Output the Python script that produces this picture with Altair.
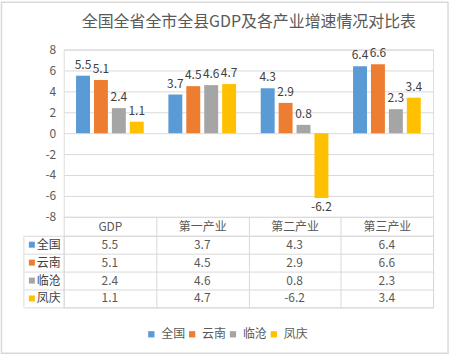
import altair as alt
import pandas as pd

categories = ["GDP", "第一产业", "第二产业", "第三产业"]
series = ["全国", "云南", "临沧", "凤庆"]
v_quanguo = [5.5, 3.7, 4.3, 6.4]
v_yunnan = [5.1, 4.5, 2.9, 6.6]
v_lincang = [2.4, 4.6, 0.8, 2.3]
v_fengqing = [1.1, 4.7, -6.2, 3.4]
colors = ["#5B9BD5", "#ED7D31", "#A5A5A5", "#FFC000"]
y_ticks = [-8, -6, -4, -2, 0, 2, 4, 6, 8]
title_text = "全国全省全市全县GDP及各产业增速情况对比表"

rows = []
for s, vals in zip(series, [v_quanguo, v_yunnan, v_lincang, v_fengqing]):
    for c, v in zip(categories, vals):
        rows.append({"category": c, "series": s, "value": v, "label": f"{v:.1f}"})
df = pd.DataFrame(rows)
sdf = pd.DataFrame({"series": series})
tdf = pd.DataFrame({"title": [title_text]})

FONT = "Noto Sans CJK SC"
GRID = "#D9D9D9"
TXT = "#595959"
W, H = 371, 168
TH = 72

color_scale = alt.Scale(domain=series, range=colors)

x_top = alt.X("category:N", sort=categories,
              scale=alt.Scale(paddingInner=0, paddingOuter=0),
              axis=alt.Axis(title=None, orient="bottom", domain=False, ticks=True,
                            tickBand="extent", tickSize=19, tickColor=GRID,
                            labelAngle=0, labelBaseline="middle", labelPadding=-9.5,
                            labelFont=FONT, labelFontSize=12, labelColor=TXT, grid=False))
xo = alt.XOffset("series:N", sort=series,
                 scale=alt.Scale(paddingInner=0.222, paddingOuter=0.6875))
y_top = alt.Y("value:Q", scale=alt.Scale(domain=[-8, 8], nice=False),
              axis=alt.Axis(title=None, values=y_ticks, domain=False, ticks=False,
                            grid=True, gridColor=GRID, labelPadding=8,
                            labelExpr="toString(datum.value)",
                            labelFont=FONT, labelFontSize=12, labelColor=TXT))

base = alt.Chart(df).encode(x=x_top, xOffset=xo, y=y_top)

bars = base.mark_bar().encode(
    color=alt.Color("series:N", scale=color_scale, sort=series,
                    legend=alt.Legend(title=None, orient="none", direction="horizontal",
                                      legendX=82, legendY=280, symbolType="square",
                                      symbolSize=40, symbolStrokeWidth=0,
                                      labelFont=FONT, labelFontSize=12, labelColor=TXT,
                                      columnPadding=-7, labelOffset=4))
)
pos_labels = base.transform_filter("datum.value >= 0").mark_text(
    baseline="bottom", dy=-4, font=FONT, fontSize=12, color="#404040"
).encode(text="label:N")
neg_labels = base.transform_filter("datum.value < 0").mark_text(
    baseline="top", dy=4, font=FONT, fontSize=12, color="#404040"
).encode(text="label:N")

border = alt.Chart(sdf).mark_rect(fill="transparent", stroke=GRID, strokeWidth=1.5).encode(
    x=alt.value(-62.5), x2=alt.value(386), y=alt.value(-47.5), y2=alt.value(305)
).transform_filter("datum.series == '全国'")

title = alt.Chart(tdf).mark_text(font=FONT, fontSize=16, color=TXT, baseline="middle").encode(
    x=alt.value(W / 2 + 0.5), y=alt.value(-28), text="title:N"
)

top = alt.layer(border, title, bars, pos_labels, neg_labels).properties(width=W, height=H)

x_tab = alt.X("category:N", sort=categories,
              scale=alt.Scale(paddingInner=0, paddingOuter=0),
              axis=alt.Axis(title=None, labels=False, ticks=False, domain=False,
                            grid=True, gridColor=GRID, tickBand="extent"))
y_tab = alt.Y("series:N", sort=series,
              scale=alt.Scale(paddingInner=0, paddingOuter=0),
              axis=alt.Axis(title=None, labels=False, ticks=True, tickSize=40,
                            tickColor=GRID, tickBand="extent", domain=False,
                            grid=True, gridColor=GRID))

cells = alt.Chart(df).mark_text(font=FONT, fontSize=12, color=TXT).encode(
    x=x_tab, y=y_tab, text="label:N"
)
row_names = alt.Chart(sdf).mark_text(align="left", font=FONT, fontSize=12, color="#404040").encode(
    x=alt.value(-27), y=alt.Y("series:N", sort=series), text="series:N"
)
row_keys = alt.Chart(sdf).mark_square(size=36, opacity=1).encode(
    x=alt.value(-32), y=alt.Y("series:N", sort=series),
    color=alt.Color("series:N", scale=color_scale, sort=series, legend=None)
)
left_line = alt.Chart(sdf).mark_rule(color=GRID).encode(
    x=alt.value(-40), y=alt.value(0), y2=alt.value(TH)
).transform_filter("datum.series == '全国'")

table = alt.layer(cells, row_names, row_keys, left_line).properties(width=W, height=TH)

chart = alt.vconcat(top, table, spacing=19, bounds="flush").properties(
    padding={"left": 0, "top": 0, "right": 0, "bottom": 0}
).configure_view(stroke=None).configure(background="white")

chart.save("out.html", embed_options={"renderer": "svg", "actions": False})
